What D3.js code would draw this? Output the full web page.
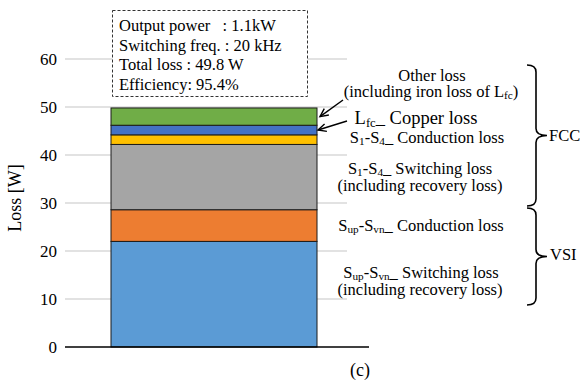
<!DOCTYPE html>
<html>
<head>
<meta charset="utf-8">
<script src="https://cdn.jsdelivr.net/npm/d3@7"></script>
<style>
  html, body { margin: 0; padding: 0; background: #fff; }
  svg { display: block; font-family: "Liberation Serif", "Times New Roman", serif; }
  .pre { white-space: pre; }
</style>
</head>
<body>
<svg id="chart" width="580" height="381"></svg>
<script>
// Loss breakdown of the converter, stacked bottom to top
const categories = [
  "Sup-Svn switching loss",
  "Sup-Svn conduction loss",
  "S1-S4 switching loss",
  "S1-S4 conduction loss",
  "Lfc copper loss",
  "Other loss"
];
const lossValues = [22.0, 6.6, 13.6, 2.0, 2.0, 3.6];
const segmentColors = ["#5B9BD5", "#ED7D31", "#A5A5A5", "#FFC000", "#4472C4", "#70AD47"];
const yTicks = [0, 10, 20, 30, 40, 50, 60];
const infoLines = [
  "Output power   : 1.1kW",
  "Switching freq. : 20 kHz",
  "Total loss : 49.8 W",
  "Efficiency: 95.4%"
];
const barLabel = "(c)";

const svg = d3.select("#chart");

const y = d3.scaleLinear().domain([0, 60]).range([347, 59]);
const x = d3.scaleBand().domain([barLabel]).range([111, 317]).padding(0);

// gridlines
svg.append("g")
  .selectAll("line")
  .data(yTicks.filter(t => t > 0))
  .join("line")
  .attr("x1", 65).attr("x2", 347)
  .attr("y1", d => y(d)).attr("y2", d => y(d))
  .attr("stroke", "#D9D9D9").attr("stroke-width", 1.3);

// y axis tick labels
const yAxis = d3.axisLeft(y).tickValues(yTicks).tickSize(0).tickPadding(8);
const yg = svg.append("g").attr("transform", "translate(65,0)").call(yAxis);
yg.select(".domain").remove();
yg.selectAll("text")
  .attr("font-family", "Liberation Serif, Times New Roman, serif")
  .attr("font-size", 17).attr("fill", "#000");

// axis title
svg.append("text")
  .attr("transform", "translate(21,198) rotate(-90)")
  .attr("text-anchor", "middle")
  .attr("font-size", 18)
  .text("Loss [W]");

// stacked segments
const stackData = [];
let acc = 0;
lossValues.forEach((v, i) => {
  stackData.push({ name: categories[i], y0: acc, y1: acc + v, color: segmentColors[i] });
  acc += v;
});

svg.append("g")
  .selectAll("rect")
  .data(stackData)
  .join("rect")
  .attr("x", x(barLabel))
  .attr("width", x.bandwidth())
  .attr("y", d => y(d.y1))
  .attr("height", d => y(d.y0) - y(d.y1))
  .attr("fill", d => d.color)
  .attr("stroke", "#1a1a1a")
  .attr("stroke-width", 1);

// baseline axis
svg.append("line")
  .attr("x1", 65).attr("x2", 369)
  .attr("y1", y(0)).attr("y2", y(0))
  .attr("stroke", "#000").attr("stroke-width", 1.5);

// caption under the bar
svg.append("text")
  .attr("x", 360).attr("y", 376)
  .attr("text-anchor", "middle")
  .attr("font-size", 18)
  .text(barLabel);

// info box
svg.append("rect")
  .attr("x", 112.5).attr("y", 10.5)
  .attr("width", 195).attr("height", 86)
  .attr("fill", "#fff")
  .attr("stroke", "#333").attr("stroke-width", 1)
  .attr("stroke-dasharray", "3,2");

svg.append("g")
  .selectAll("text")
  .data(infoLines)
  .join("text")
  .attr("class", "pre")
  .attr("x", 119)
  .attr("y", (d, i) => 31 + i * 19.5)
  .attr("font-size", 16.5)
  .text(d => d);

// segment annotations with subscripts
function richText(x0, y0, size, parts) {
  const t = svg.append("text")
    .attr("x", x0).attr("y", y0)
    .attr("text-anchor", "middle")
    .attr("font-size", size);
  const shift = size * 0.14;
  let lowered = false;
  parts.forEach(p => {
    const isSub = typeof p !== "string";
    const s = t.append("tspan").text(isSub ? p.sub : p);
    if (isSub) {
      s.attr("font-size", size * 0.68);
      if (!lowered) { s.attr("dy", shift); lowered = true; }
    } else if (lowered) {
      s.attr("dy", -shift); lowered = false;
    }
  });
  return t;
}

const fs = 16.5;
richText(432, 81, fs, ["Other loss"]);
richText(431, 97, fs, ["(including iron loss of L", { sub: "fc" }, ")"]);
richText(416, 124, 18.5, ["L", { sub: "fc" }, "_ Copper loss"]);
richText(427, 143, fs, ["S", { sub: "1" }, "-S", { sub: "4" }, "_ Conduction loss"]);
richText(420, 174, fs, ["S", { sub: "1" }, "-S", { sub: "4" }, "_ Switching loss"]);
richText(420, 191, fs, ["(including recovery loss)"]);
richText(421, 231, fs, ["S", { sub: "up" }, "-S", { sub: "vn" }, "_ Conduction loss"]);
richText(421, 278, fs, ["S", { sub: "up" }, "-S", { sub: "vn" }, "_ Switching loss"]);
richText(420, 295, fs, ["(including recovery loss)"]);

// arrows pointing at the two thin top segments
function arrow(xs, ys, xe, ye) {
  const g = svg.append("g").attr("stroke", "#000").attr("stroke-width", 1.4).attr("fill", "none");
  g.append("line").attr("x1", xs).attr("y1", ys).attr("x2", xe).attr("y2", ye);
  const ang = Math.atan2(ye - ys, xe - xs);
  const len = 9, spread = 0.45;
  const p1 = [xe - len * Math.cos(ang - spread), ye - len * Math.sin(ang - spread)];
  const p2 = [xe - len * Math.cos(ang + spread), ye - len * Math.sin(ang + spread)];
  g.append("path").attr("d", `M${p1[0]},${p1[1]}L${xe},${ye}L${p2[0]},${p2[1]}`);
}
const other = stackData[5], copper = stackData[4];
arrow(343, 100, x(barLabel) + x.bandwidth() + 3, y((other.y0 + other.y1) / 2));
arrow(347, 121, x(barLabel) + x.bandwidth() + 1, y((copper.y0 + copper.y1) / 2));

// curly braces grouping the loss sources
function brace(x0, yTop, yBot, w) {
  const ym = (yTop + yBot) / 2, xm = x0 + w * 0.45, r = 7;
  const d = `M${x0},${yTop} Q${xm},${yTop} ${xm},${yTop + r} L${xm},${ym - r} Q${xm},${ym} ${x0 + w},${ym}` +
            ` Q${xm},${ym} ${xm},${ym + r} L${xm},${yBot - r} Q${xm},${yBot} ${x0},${yBot}`;
  svg.append("path").attr("d", d).attr("fill", "none").attr("stroke", "#000").attr("stroke-width", 1.6);
}
brace(527, 65, 206, 20);
brace(527, 208, 305, 20);

svg.append("text").attr("x", 549).attr("y", 141).attr("font-size", 16.5).text("FCC");
svg.append("text").attr("x", 550).attr("y", 260).attr("font-size", 16.5).text("VSI");
</script>
</body>
</html>
